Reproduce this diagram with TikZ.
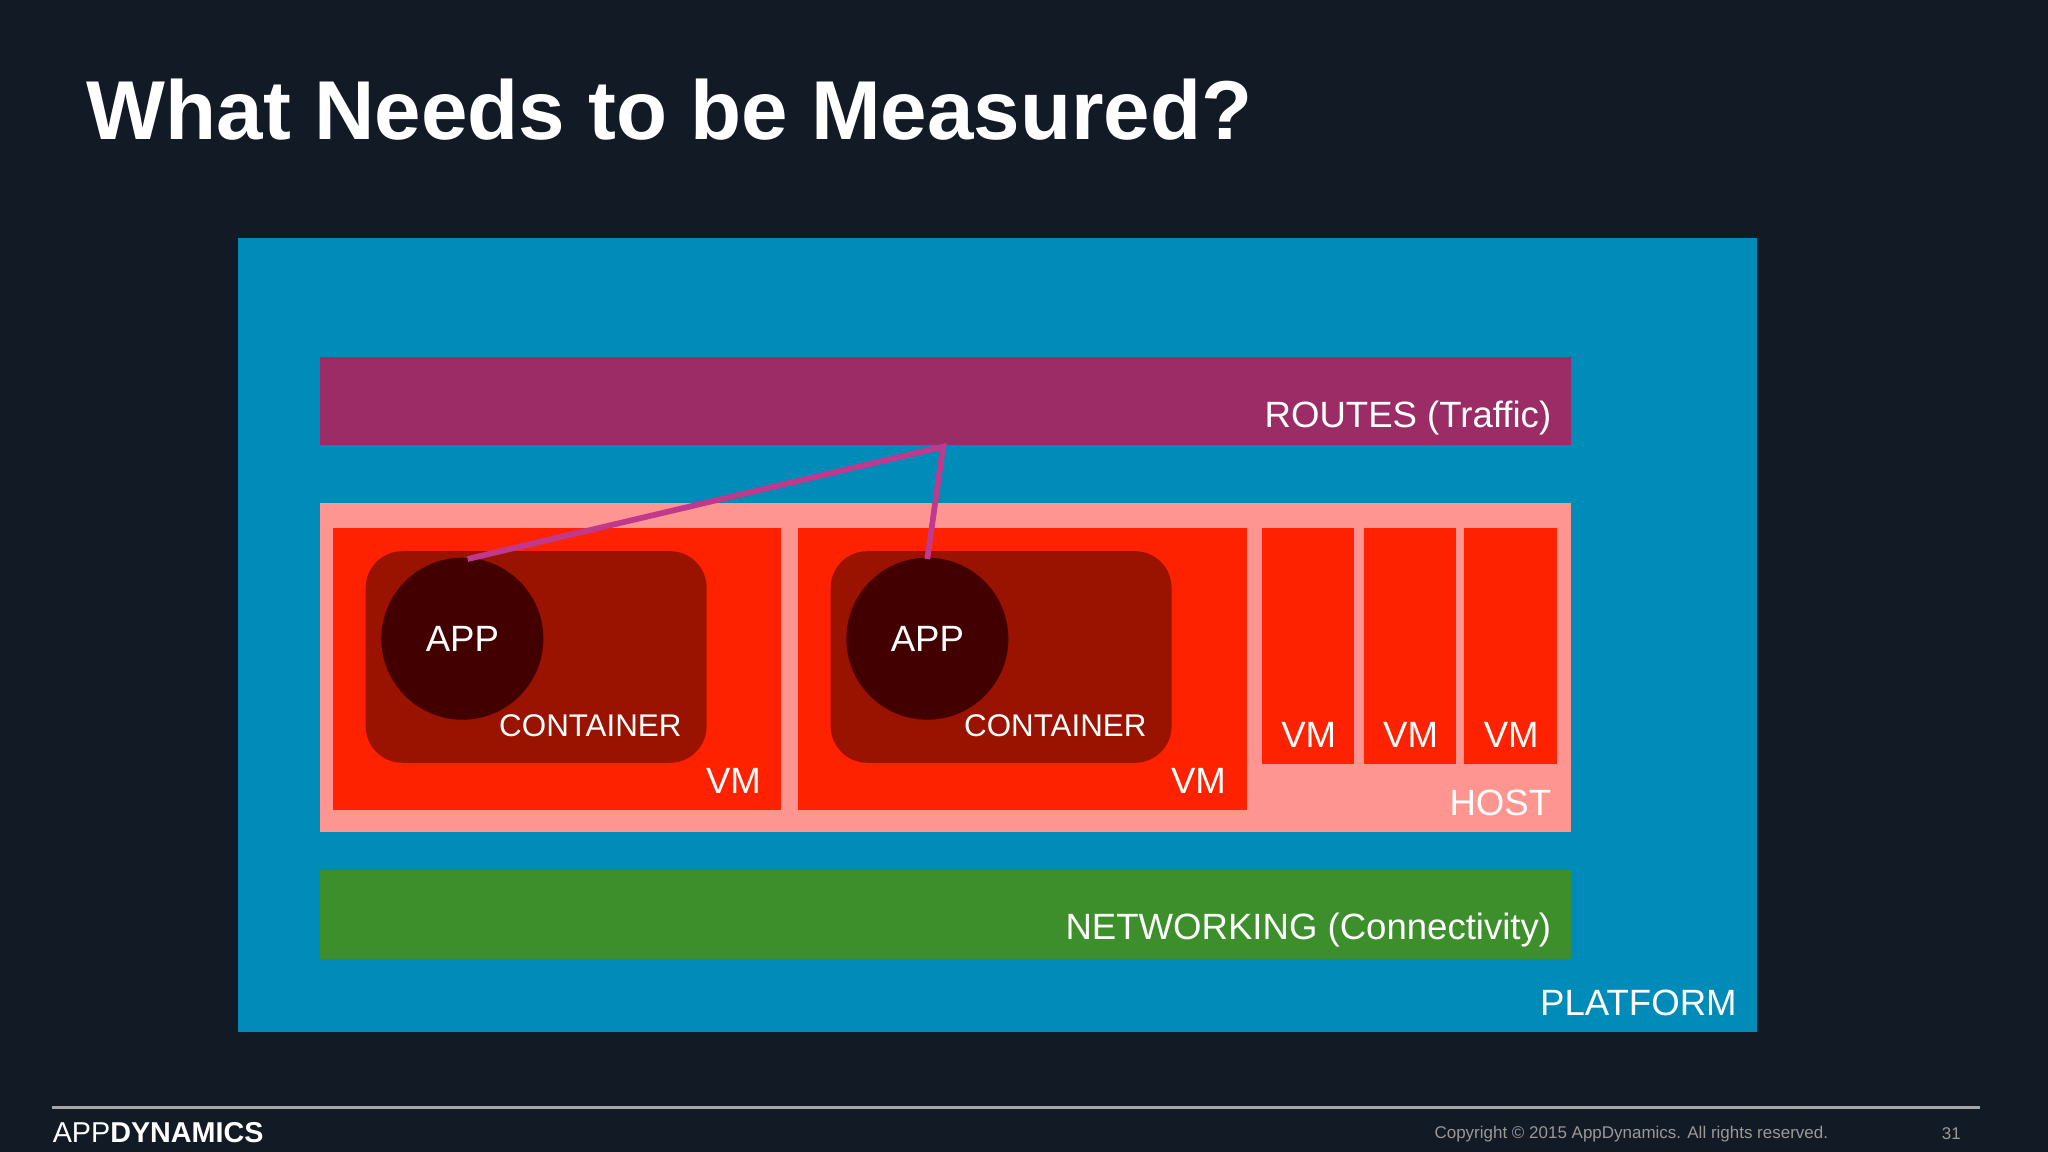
\documentclass[tikz,border=0pt]{standalone}
\usepackage{fontspec}
\setmainfont{Liberation Sans}
\begin{document}
\begin{tikzpicture}[x=0.5pt,y=-0.5pt,
  lbl/.style={text=white,font=\fontsize{14}{16}\selectfont,inner sep=0pt},
  lblr/.style={lbl,anchor=east},
  link/.style={draw=magenta!70!purple,line width=2.2pt}]
\definecolor{bg}{HTML}{121A26}
\definecolor{plat}{HTML}{008BB9}
\definecolor{route}{HTML}{9B2C66}
\definecolor{host}{HTML}{FF9590}
\definecolor{vm}{HTML}{FF2200}
\definecolor{cont}{HTML}{9A1200}
\definecolor{app}{HTML}{420000}
\definecolor{net}{HTML}{3C8F2A}
\definecolor{lnk}{HTML}{C0398C}
\fill[bg] (0,0) rectangle (1568,882);
\useasboundingbox (0,0) rectangle (1568,882);
\node[anchor=west,text=white,font=\fontsize{32}{36}\selectfont\bfseries,inner sep=0pt] (title) at (66,84) {What Needs to be Measured?};
\fill[plat] (182,182) rectangle (1345,790);
\fill[route] (245,273) rectangle (1203,341);
\fill[host] (245,385) rectangle (1203,637);
\fill[vm] (255,404) rectangle (598,620);
\fill[vm] (611,404) rectangle (955,620);
\fill[vm] (966,404) rectangle (1037,585);
\fill[vm] (1044,404) rectangle (1115,585);
\fill[vm] (1121,404) rectangle (1192,585);
\fill[cont,rounded corners=14pt] (280,422) rectangle (541,584);
\fill[cont,rounded corners=14pt] (636,422) rectangle (897,584);
\node[circle,fill=app,minimum size=62pt,inner sep=0pt] (app1) at (354,489) {};
\node[circle,fill=app,minimum size=62pt,inner sep=0pt] (app2) at (710,489) {};
\node[lbl] at (app1) {APP};
\node[lbl] at (app2) {APP};
\coordinate (rt) at (722,342);
\coordinate (a1) at (358,428);
\coordinate (a2) at (710,428);
\draw[draw=lnk,line width=2.2pt] (a1) -- (rt) -- (a2);
\fill[net] (245,666) rectangle (1203,734);
\node[lblr] (routes) at (1188,320) {ROUTES (Traffic)};
\node[lblr] (hostl) at (1188,615) {HOST};
\node[lblr] (vm1) at (583,598) {VM};
\node[lblr] (vm2) at (939,598) {VM};
\node[lbl] (vm3) at (1002,563) {VM};
\node[lbl] (vm4) at (1080,563) {VM};
\node[lbl] (vm5) at (1157,563) {VM};
\node[lbl,font=\fontsize{12}{14}\selectfont] (c1) at (452,556) {CONTAINER};
\node[lbl,font=\fontsize{12}{14}\selectfont] (c2) at (808,556) {CONTAINER};
\node[lblr] (netl) at (1188,712) {NETWORKING (Connectivity)};
\node[lblr] (platl) at (1330,768) {PLATFORM};
\draw[gray!70,line width=1pt] (40,848) -- (1516,848);
\node[anchor=west,text=white,inner sep=0pt,font=\fontsize{11}{12}\selectfont] (logo) at (40,867) {APP\textbf{DYNAMICS}};
\node[anchor=east,text=gray!80,inner sep=0pt,font=\fontsize{6.5}{8}\selectfont] (copy) at (1400,868) {Copyright © 2015 AppDynamics. All rights reserved.};
\node[text=gray!80,inner sep=0pt,font=\fontsize{6.5}{8}\selectfont] (pg) at (1494,868) {31};
\end{tikzpicture}
\end{document}
